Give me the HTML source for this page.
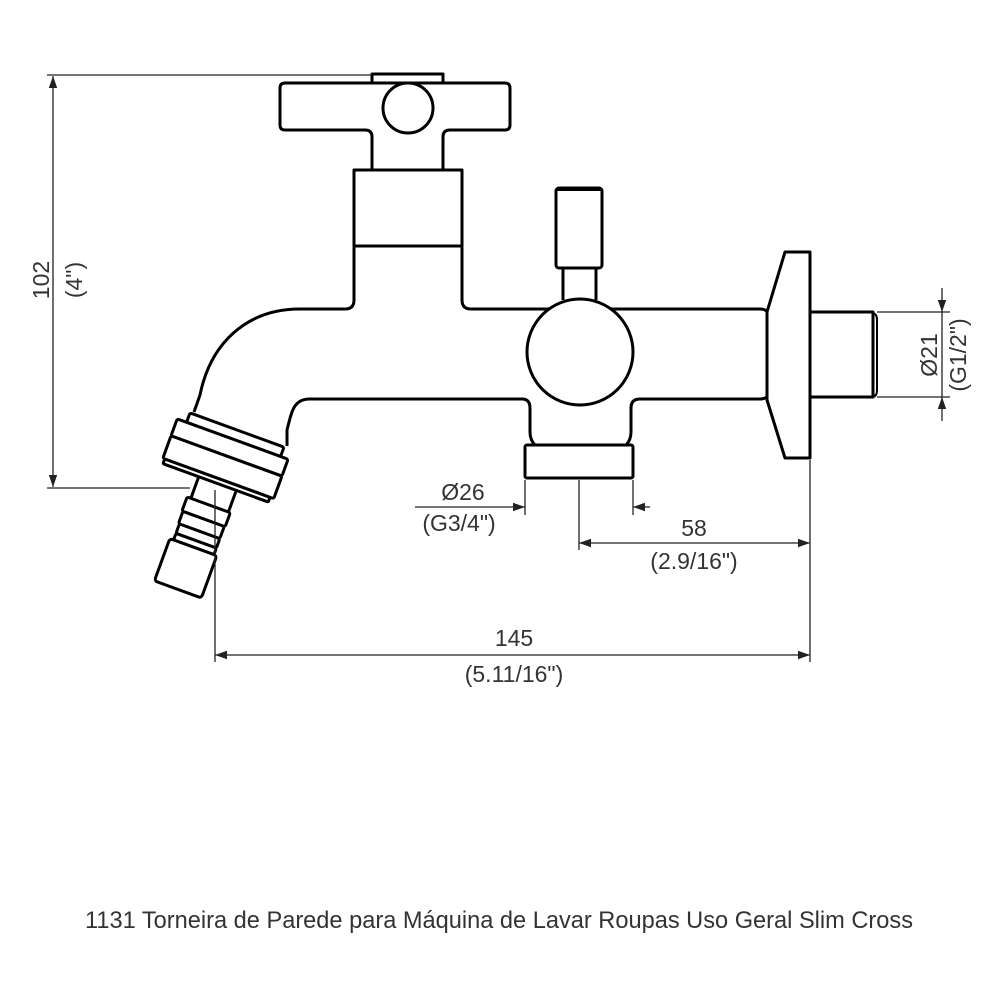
<!DOCTYPE html>
<html><head><meta charset="utf-8"><style>
html,body{margin:0;padding:0;background:#fff;}
svg{display:block}
text{font-family:"Liberation Sans",sans-serif;fill:#333;}
</style></head><body>
<svg width="1000" height="1000" viewBox="0 0 1000 1000" xmlns="http://www.w3.org/2000/svg">
<defs>
<marker id="a" viewBox="0 0 10 10" refX="10" refY="5" markerWidth="12" markerHeight="12" markerUnits="userSpaceOnUse" orient="auto-start-reverse"><path d="M0,1.5 L10,5 L0,8.5 z" fill="#222"/></marker>
</defs>
<g fill="none" stroke="#000" stroke-width="3" stroke-linejoin="round">
<!-- handle -->
<rect x="372" y="74" width="71" height="9" fill="#fff"/>
<path d="M372,170 V137 Q372,130 365,130 H285 Q280,130 280,125 V88 Q280,83 285,83 H505 Q510,83 510,88 V125 Q510,130 505,130 H450 Q443,130 443,137 V170" fill="#fff"/>
<circle cx="408" cy="108" r="25"/>
<rect x="354" y="170" width="108" height="76" fill="#fff"/>
<!-- body -->
<path d="M354,246 L354,300 Q354,309 345,309 L300,309 C245,309 210,345 200,395 L194,412"/>
<path d="M462,246 L462,300 Q462,309 471,309 L760,309 Q766,309 768,313"/>
<path d="M287,446 L287,430 C292,410 294,399 310,399 L522,399 Q530,399 530,408 L530,432 Q530,440 535,445"/>
<path d="M626,445 Q631,440 631,432 L631,408 Q631,399 640,399 L760,399 Q766,399 768,395"/>
<!-- valve -->
<rect x="556" y="188" width="46" height="80" rx="3" fill="#fff"/>
<path d="M557,189 L601,189" stroke-width="4"/>
<path d="M563,268 L563,300 M596,268 L596,300"/>
<circle cx="580" cy="352" r="53" fill="#fff"/>
<rect x="525" y="445" width="108" height="33" rx="2" fill="#fff"/>
<!-- flange -->
<path d="M785,252 L810,252 L810,458 L785,458 L767,400 L767,312 Z" fill="#fff"/>
<path d="M810,312 L873,312 L873,397 L810,397"/>
<path d="M873,313 Q877,314 877,320 L877,390 Q877,396 873,397" stroke-width="2"/>
<!-- nut & barb -->
<g transform="translate(237,430) rotate(20)" fill="#fff">
<path d="M-20,57 L-20,80 M20,57 L20,80"/>
<rect x="-24" y="80" width="46" height="15" rx="2"/>
<rect x="-23" y="95" width="44" height="13" rx="2"/>
<rect x="-22" y="108" width="43" height="10" rx="2"/>
<rect x="-22" y="118" width="43" height="7" rx="2"/>
<rect x="-26" y="125" width="50" height="45" rx="3"/>
<rect x="-50" y="0" width="100" height="10" rx="2"/>
<rect x="-60" y="10" width="118" height="18" rx="2"/>
<rect x="-60" y="28" width="118" height="24" rx="2"/>
<rect x="-58" y="52" width="112" height="5" rx="1"/>
</g>
</g>
<!-- dimensions -->
<g stroke="#222" stroke-width="1.3" fill="none">
<path d="M47,75 L372,75 M47,488 L190,488"/>
<path d="M53,76 L53,487" marker-start="url(#a)" marker-end="url(#a)"/>
<path d="M877,312 L950,312 M877,397 L950,397"/>
<path d="M942,288 L942,312" marker-end="url(#a)"/>
<path d="M942,421 L942,397" marker-end="url(#a)"/>
<path d="M942,312 L942,397"/>
<path d="M525,480 L525,515 M633,480 L633,515"/>
<path d="M415,507 L525,507" marker-end="url(#a)"/>
<path d="M650,507 L633,507" marker-end="url(#a)"/>
<path d="M579,480 L579,550 M810,460 L810,662"/>
<path d="M579,543 L810,543" marker-start="url(#a)" marker-end="url(#a)"/>
<path d="M215,490 L215,662"/>
<path d="M215,655 L810,655" marker-start="url(#a)" marker-end="url(#a)"/>
</g>
<g font-size="23">
<text transform="translate(49,280) rotate(-90)" text-anchor="middle">102</text>
<text transform="translate(82,280) rotate(-90)" text-anchor="middle">(4")</text>
<text transform="translate(937,355) rotate(-90)" text-anchor="middle">Ø21</text>
<text transform="translate(966,355) rotate(-90)" text-anchor="middle">(G1/2")</text>
<text x="463" y="500" text-anchor="middle">Ø26</text>
<text x="459" y="531" text-anchor="middle">(G3/4")</text>
<text x="694" y="536" text-anchor="middle">58</text>
<text x="694" y="569" text-anchor="middle">(2.9/16")</text>
<text x="514" y="646" text-anchor="middle">145</text>
<text x="514" y="682" text-anchor="middle">(5.11/16")</text>
</g>
<text x="85" y="928" font-size="24" textLength="828" lengthAdjust="spacingAndGlyphs">1131 Torneira de Parede para Máquina de Lavar Roupas Uso Geral Slim Cross</text>
</svg>
</body></html>
